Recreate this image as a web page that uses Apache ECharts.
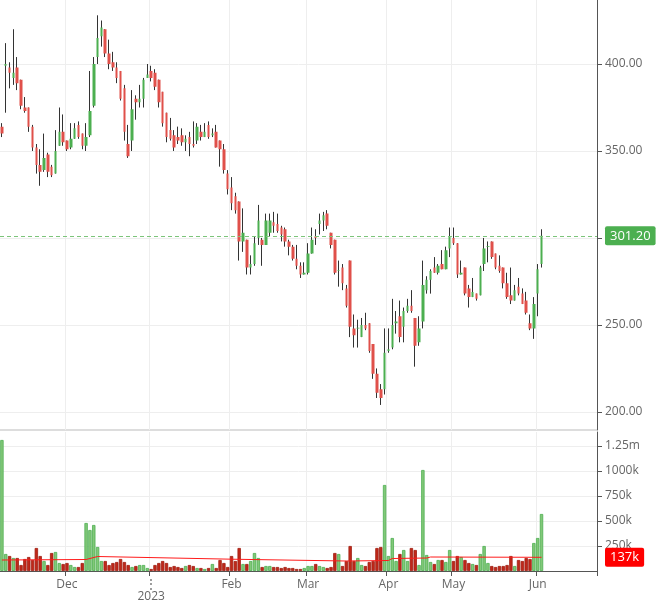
<!DOCTYPE html>
<html><head><meta charset="utf-8">
<script src="https://cdn.jsdelivr.net/npm/echarts@6/dist/echarts.min.js"></script>
<style>html,body{margin:0;padding:0;background:#fff}#c{width:656px;height:603px}</style>
</head><body><div id="c"></div>
<script>
// [open, close, low, high]
const ohlc = [
[364,360,358,366],[399,400,372,412],[398,395,386,401],[392,395,388,420],[398,389,385,404],[391,376,374,391],[375,373,372,381],[375,364,361,375],[364,352,350,365],[352,342,337,354],
[342,338,330,351],[339,346,338,360],[348,338,335,349],[341,336,335,342],[337,350,337,362],[353,361,353,375],[361,355,353,371],[356,351,350,356],[352,357,351,366],[357,363,357,366],
[365,358,357,367],[360,353,351,360],[353,358,350,366],[359,373,358,396],[376,400,375,404],[404,415,400,428],[416,421,410,425],[420,406,404,420],[406,400,397,414],[401,398,396,407],
[398,392,389,401],[396,380,379,396],[386,361,356,388],[354,347,346,365],[356,374,350,385],[380,378,368,382],[378,380,375,388],[380,391,375,392],[392,394,392,400],[396,392,390,399],
[395,387,385,397],[391,378,375,391],[384,366,364,384],[372,358,355,372],[362,357,356,369],[359,352,350,362],[358,356,354,364],[359,355,353,363],[355,357,350,359],[358,354,347,361],
[354,353,352,367],[356,364,354,366],[361,358,356,365],[358,361,358,366],[365,358,357,367],[359,360,358,363],[361,352,352,365],[356,351,341,356],[351,339,337,354],[337,328,325,339],
[329,320,316,335],[324,316,314,326],[321,298,287,321],[298,303,292,317],[299,283,279,299],[283,285,279,290],[285,297,284,301],[300,310,296,319],[299,296,284,300],[296,310,296,314],
[303,310,301,314],[309,307,303,315],[308,304,303,314],[306,302,298,307],[305,298,295,306],[298,295,290,299],[295,288,287,296],[288,284,282,296],[284,279,277,286],[279,280,279,286],
[280,291,279,297],[291,299,291,306],[301,300,296,305],[308,310,302,314],[310,313,304,315],[314,307,305,316],[303,296,294,303],[299,280,279,299],[281,281.4,272,287],[283,274,270,285],
[271,261,260,273],[287,249,243,287],[248,244,237,256],[248,248.4,237,253],[243,250,243,254],[250,248,247,257],[251,235,234,251],[239,222,219,239],[222,211,208,225],[213,208,204,216],
[213,234,210,248],[235,236,234,248],[237,250,236,265],[251,252,245,258],[255,243,240,264],[249,258,240,260],[258,261,257,265],[261,258,257,270],[254,238,226,254],[240,248,238,255],
[252,273,248,287],[270,276,268,278],[276,281,268,282],[283,280,280,289],[280,284,279,285],[285,282,282,293],[282,293,282,295],[294,301,289,306],[300,297,296,306],[297,279,277,297],
[279,280,279,287],[283,268,267,283],[271,266,260,273],[266,269,266,277],[268,265,264,268],[267,283,267,284],[285,294,281,300],[295,295.4,286,298],[298,289,288,298],[291,283,282,291],
[284,281,280,290],[283,274,271,283],[274,266,265,280],[267,264,262,283],[264,270,264,273],[272,268,267,277],[268,262,262,271],[264,257,256,269],[251,248,247,256],[248,262,242,266],
[268,282,255,285],[285,301.2,283,305]
];
// volume in thousands
const volume = [
1310,170,150,130,130,60,120,140,110,230,150,100,60,180,190,80,70,80,60,40,
40,80,480,410,460,240,100,100,60,80,90,120,90,60,40,50,60,60,30,20,
60,80,100,80,40,50,40,30,50,60,50,30,30,20,30,70,30,110,80,40,
150,100,230,70,70,100,180,130,40,50,50,40,40,30,40,30,30,20,20,30,
50,50,70,50,40,30,40,180,170,50,100,250,100,130,60,50,90,100,230,240,
860,150,330,100,170,210,100,230,210,60,1010,160,90,70,110,110,90,210,100,150,
140,110,80,70,60,170,250,80,50,40,50,50,60,150,50,110,100,130,120,280,
330,570
];
// volume average line, read at key points (others null)
const volAvgPoints = {0:110, 22:115, 25:145, 60:118, 90:100, 101:105, 102:125, 111:130, 112:140, 141:137};
const emptySlots = 14;
const holidays = ['2022-11-08','2023-01-26','2023-03-07','2023-03-30','2023-04-04','2023-04-07','2023-04-14','2023-05-01'];
const monthNames = ['Jan','Feb','Mar','Apr','May','Jun','Jul','Aug','Sep','Oct','Nov','Dec'];

const dates = [];
{ let d = new Date(Date.UTC(2022,10,7));
  while (dates.length < ohlc.length + emptySlots) {
    const s = d.toISOString().slice(0,10), wd = d.getUTCDay();
    if (wd !== 0 && wd !== 6 && holidays.indexOf(s) < 0) dates.push(s);
    d.setUTCDate(d.getUTCDate()+1);
  } }
const isMonthStart = i => i > 0 && i < ohlc.length && dates[i].slice(5,7) !== dates[i-1].slice(5,7);
const avgData = ohlc.map((_, i) => volAvgPoints[i] !== undefined ? volAvgPoints[i] : null);
const UP = '#4caf50', DOWN = '#e0504a';
const volData = volume.map((v,i) => { const up = i===0 || ohlc[i][1] >= ohlc[i][0]; return {value:v, itemStyle:{
  color: up ? '#82c878' : '#c0281a',
  borderColor: up ? '#4caf50' : '#a01e12', borderWidth: 0.8}};});
const last = ohlc[ohlc.length-1][1];

const chart = echarts.init(document.getElementById('c'));
const axisLbl = {color:'#666', fontSize:12, fontFamily:'Open Sans'};
chart.setOption({
  animation:false,
  grid:[{left:0,right:59,top:0,height:430},{left:0,right:59,top:432,bottom:28}],
  xAxis:[
    {type:'category',data:dates,gridIndex:0,boundaryGap:true,
     axisLine:{show:false},axisTick:{show:false},axisLabel:{show:false},
     splitLine:{show:true,interval:(i)=>isMonthStart(i),lineStyle:{color:'#eeeeee'}}},
    {type:'category',data:dates,gridIndex:1,boundaryGap:true,
     axisLine:{lineStyle:{color:'#555'}},
     axisTick:{show:true,interval:(i)=>isMonthStart(i),lineStyle:{color:'#555'}},
     axisLabel:{...axisLbl,interval:(i)=>isMonthStart(i),
       formatter:(v)=>{const m=+v.slice(5,7)-1; return m===0?'⋮\n2023':monthNames[m];}},
     splitLine:{show:true,interval:(i)=>isMonthStart(i),lineStyle:{color:'#eeeeee'}}}
  ],
  yAxis:[
    {type:'value',gridIndex:0,position:'right',min:189.6,max:436.8,
     axisLine:{show:true,lineStyle:{color:'#555'}},
     axisTick:{show:true,customValues:[200,250,300,350,400],lineStyle:{color:'#555'}},
     axisLabel:{...axisLbl,customValues:[200,250,300,350,400],formatter:v=>v.toFixed(2)},
     splitLine:{show:true,lineStyle:{color:'#eeeeee'}}},
    {type:'value',gridIndex:1,position:'right',min:0,max:1390,
     axisLine:{show:true,lineStyle:{color:'#555'}},
     axisTick:{show:true,customValues:[250,500,750,1000,1250],lineStyle:{color:'#555'}},
     axisLabel:{...axisLbl,customValues:[250,500,750,1000,1250],formatter:v=>v===1250?'1.25m':v+'k'},
     splitLine:{show:true,lineStyle:{color:'#eeeeee'}}}
  ],
  graphic:[{type:'line',shape:{x1:0,y1:430,x2:597,y2:430},style:{stroke:'#bbb',lineWidth:1}}],
  series:[
    {type:'candlestick',xAxisIndex:0,yAxisIndex:0,data:ohlc,barWidth:'78%',z:3,
     itemStyle:{color:UP,color0:DOWN,borderColor:UP,borderColor0:DOWN,borderWidth:0},
     markLine:{symbol:'none',silent:true,
       data:[{yAxis:last}],
       lineStyle:{type:[4,3],color:'#7cc47a',width:1},
       label:{position:'end',formatter:()=>last.toFixed(2),color:'#fff',backgroundColor:'#4caf50',
         padding:[3,5,3,5],borderRadius:2,fontSize:13,fontFamily:'Open Sans',distance:8}}},
    {type:'candlestick',xAxisIndex:0,yAxisIndex:0,data:ohlc,barWidth:'8%',z:1,
     itemStyle:{color:'#333',color0:'#333',borderColor:'#333',borderColor0:'#333',borderWidth:1}},
    {type:'bar',xAxisIndex:1,yAxisIndex:1,data:volData,barCategoryGap:'12%'},
    {type:'line',xAxisIndex:1,yAxisIndex:1,data:avgData,connectNulls:true,symbol:'none',
     lineStyle:{color:'#ff1a1a',width:1},
     markLine:{symbol:'none',silent:true,data:[{yAxis:137}],lineStyle:{width:0,color:'#ff0000'},
       label:{show:true,position:'end',formatter:'137k',color:'#fff',backgroundColor:'#ff0000',
         padding:[3,5,3,5],borderRadius:2,fontSize:13,fontFamily:'Open Sans',distance:8}}}
  ]
});
</script></body></html>
